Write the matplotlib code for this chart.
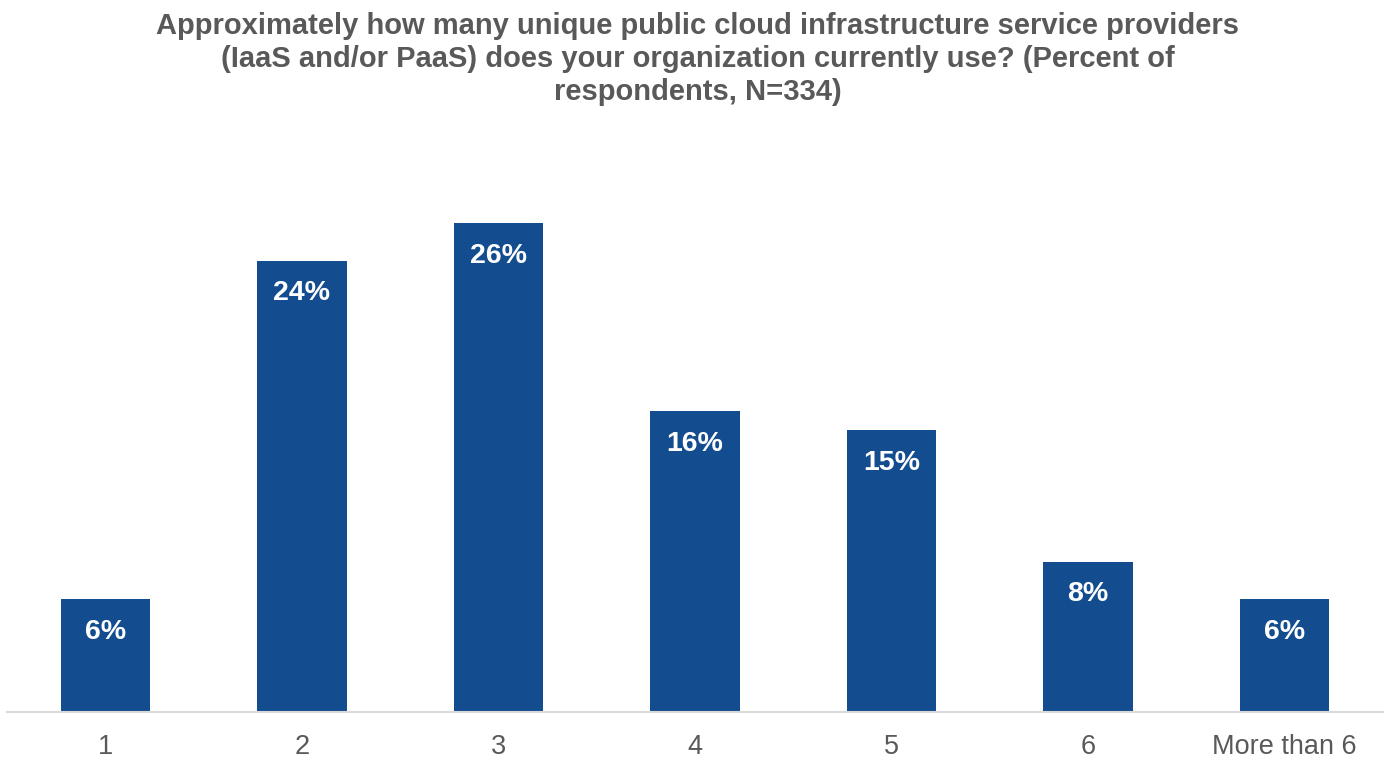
import numpy as np
import matplotlib.pyplot as plt

plt.rcParams['font.family'] = ['Liberation Sans', 'DejaVu Sans']

categories = ['1', '2', '3', '4', '5', '6', 'More than 6']
percents = [6, 24, 26, 16, 15, 8, 6]
title = ('Approximately how many unique public cloud infrastructure service providers\n'
         '(IaaS and/or PaaS) does your organization currently use? (Percent of\n'
         'respondents, N=334)')

bar_color = '#134D8F'
grey = '#595959'

fig = plt.figure(figsize=(13.84, 7.59), dpi=100)
ax = fig.add_axes([7.25 / 1384, 47 / 759, 1375.5 / 1384, 564 / 759])

x = np.arange(len(categories))
bars = ax.bar(x, percents, width=0.453, color=bar_color, zorder=2)

for rect, v in zip(bars, percents):
    ax.annotate(f'{v}%', xy=(rect.get_x() + rect.get_width() / 2, rect.get_height()),
                xytext=(0, -23.5), textcoords='offset points',
                ha='center', va='center', color='white', fontsize=20.5, fontweight='bold')

ax.set_xlim(-0.5, len(categories) - 0.5)
ax.set_ylim(0, 30)
ax.set_xticks(x)
ax.set_xticklabels(categories, fontsize=19.5, color=grey)
ax.tick_params(axis='x', length=0, pad=15.5)
ax.set_yticks([])
for side in ['top', 'right', 'left']:
    ax.spines[side].set_visible(False)
ax.spines['bottom'].set_color('#D9D9D9')
ax.spines['bottom'].set_linewidth(1.5)

fig.text(0.504, 1 - 12 / 759, title, ha='center', va='top', multialignment='center',
         fontsize=21, fontweight='bold', color=grey, linespacing=1.22)

fig.savefig('out.png', dpi=100)
